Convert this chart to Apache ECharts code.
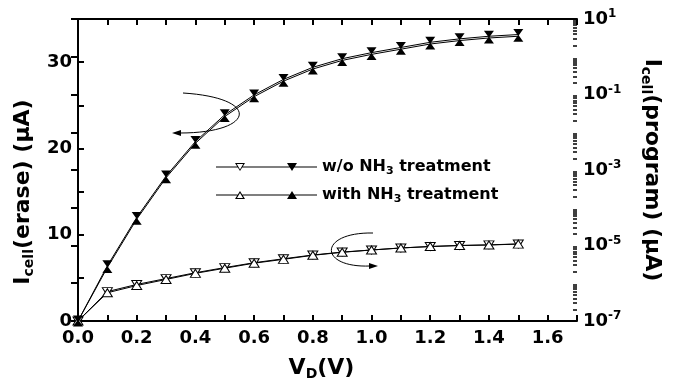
<!DOCTYPE html>
<html><head><meta charset="utf-8">
<script src="https://cdn.jsdelivr.net/npm/echarts@6/dist/echarts.min.js"></script>
<style>html,body{margin:0;padding:0;background:#fff}#c{width:675px;height:386px}</style>
</head><body><div id="c"></div>
<script>
const vd = [0.0, 0.1, 0.2, 0.3, 0.4, 0.5, 0.6, 0.7, 0.8, 0.9, 1.0, 1.1, 1.2, 1.3, 1.4, 1.5];
// erase current (left axis, μA)
const eraseWo   = [0, 6.4, 12.0, 16.8, 20.8, 23.9, 26.2, 28.0, 29.4, 30.4, 31.1, 31.7, 32.3, 32.7, 33.0, 33.2];
const eraseWith = [0, 6.2, 11.8, 16.6, 20.6, 23.7, 26.0, 27.8, 29.2, 30.2, 30.9, 31.5, 32.1, 32.5, 32.8, 33.0];
// program current (right log axis, μA)
const programWo   = [1e-7, 6.0e-7, 9.3e-7, 1.33e-6, 1.9e-6, 2.6e-6, 3.5e-6, 4.45e-6, 5.6e-6, 6.7e-6, 7.6e-6, 8.6e-6, 9.4e-6, 1.0e-5, 1.04e-5, 1.1e-5];
const programWith = [1e-7, 5.6e-7, 8.7e-7, 1.26e-6, 1.83e-6, 2.5e-6, 3.4e-6, 4.3e-6, 5.5e-6, 6.6e-6, 7.6e-6, 8.6e-6, 9.4e-6, 1.0e-5, 1.03e-5, 1.09e-5];
const xTickLabels = ['0.0','0.2','0.4','0.6','0.8','1.0','1.2','1.4','1.6'];
const leftTickLabels = ['0','10','20','30'];
const rightTickExps = [-7, -5, -3, -1, 1];
const logMinorMultipliers = [2, 3, 4, 5, 6, 7, 8, 9];
const logDecades = [-7, -6, -5, -4, -3, -2, -1, 0];

const FONT = '"DejaVu Sans", "Liberation Sans", Arial, sans-serif';
const chart = echarts.init(document.getElementById('c'), null, {renderer: 'canvas'});
const pair = (ys) => vd.map((x, i) => [x, ys[i]]);
const logMinorTicks = [];
logDecades.forEach(e => logMinorMultipliers.forEach(k => logMinorTicks.push(k * Math.pow(10, e))));
const tickFont = {fontFamily: FONT, fontWeight: 'bold', fontSize: 18, color: '#000'};
const titleRich = {
  b: {fontFamily: FONT, fontWeight: 'bold', fontSize: 22, color: '#000', lineHeight: 26},
  s: {fontFamily: FONT, fontWeight: 'bold', fontSize: 14, color: '#000', verticalAlign: 'bottom', lineHeight: 14}
};
// legend glyphs: line — open triangle — line — filled triangle — line
const lines = 'M0,3.5L21.5,3.5L21.5,4.5L0,4.5Z M26.5,3.5L73.5,3.5L73.5,4.5L26.5,4.5Z M78.5,3.5L101,3.5L101,4.5L78.5,4.5Z';
const iconDown = 'path://' + lines + ' M19,0L29,0L24,8Z M20.8,1L24,6.4L27.2,1Z M71,0L81,0L76,8Z';
const iconUp = 'path://' + lines + ' M24,0L29,8L19,8Z M24,2L21,7L27,7Z M76,0L81,8L71,8Z';

const option = {
  animation: false,
  backgroundColor: '#fff',
  grid: {left: 78, right: 98, top: 19, bottom: 65},
  xAxis: [
    {type: 'value', position: 'bottom', min: 0, max: 1.7, interval: 0.1,
     name: '{b|V}{s|D}{b|(V)}', nameLocation: 'middle', nameGap: 34,
     nameTextStyle: {rich: titleRich, padding: [0, 12, 0, 0]},
     axisLine: {lineStyle: {color: '#000', width: 2}},
     axisTick: {inside: true, length: 6, lineStyle: {color: '#000', width: 2}},
     splitLine: {show: false},
     axisLabel: Object.assign({margin: 8, formatter: v => {
        const s = v.toFixed(1); return xTickLabels.indexOf(s) >= 0 ? s : '';
     }}, tickFont)},
    {type: 'value', position: 'top', min: 0, max: 1.7, interval: 0.1,
     axisLine: {lineStyle: {color: '#000', width: 2}},
     axisTick: {inside: true, length: 6, lineStyle: {color: '#000', width: 2}},
     splitLine: {show: false}, axisLabel: {show: false}}
  ],
  yAxis: [
    {type: 'value', position: 'left', min: 0, max: 35, interval: 5,
     name: '{b|I}{s|cell}{b|(erase) (μA)}', nameLocation: 'middle', nameGap: 40,
     nameTextStyle: {rich: titleRich, padding: [0, 44, 0, 0]},
     axisLine: {lineStyle: {color: '#000', width: 2}},
     axisTick: {inside: true, length: 6, lineStyle: {color: '#000', width: 2}},
     minorTick: {show: false},
     splitLine: {show: false},
     axisLabel: Object.assign({margin: 6, formatter: v => {
        const s = String(v); return leftTickLabels.indexOf(s) >= 0 ? s : '';
     }}, tickFont)},
    {type: 'log', logBase: 10, position: 'right', min: 1e-7, max: 10, interval: 1,
     name: '{b|I}{s|cell}{b|(program) (μA)}', nameLocation: 'middle', nameGap: 62, nameRotate: -90,
     nameTextStyle: {rich: titleRich},
     axisLine: {lineStyle: {color: '#000', width: 2}},
     axisTick: {inside: true, length: 7, lineStyle: {color: '#000', width: 2}},
     minorTick: {show: false},
     splitLine: {show: false},
     axisLabel: {margin: 6, formatter: v => {
        const e = Math.round(Math.log10(v));
        return rightTickExps.indexOf(e) >= 0 ? '{b|10}{p|' + e + '}' : '';
     }, rich: {b: {fontFamily: FONT, fontWeight: 'bold', fontSize: 18, color: '#000', lineHeight: 22},
               p: {fontFamily: FONT, fontWeight: 'bold', fontSize: 12, color: '#000', verticalAlign: 'top', lineHeight: 12}}}},
    {type: 'log', logBase: 10, position: 'right', min: 1e-7, max: 10,
     axisLine: {show: false},
     axisTick: {inside: true, length: 4, customValues: logMinorTicks, lineStyle: {color: '#000', width: 1.5}},
     minorTick: {show: false}, splitLine: {show: false}, axisLabel: {show: false}}
  ],
  legend: {
    data: [{name: 'w/o NH3 treatment', icon: iconDown}, {name: 'with NH3 treatment', icon: iconUp}],
    orient: 'vertical', left: 216, top: 157, padding: 0, itemWidth: 101, itemHeight: 8, itemGap: 8,
    itemStyle: {color: '#000', borderWidth: 0},
    formatter: n => n.replace('NH3', 'NH{s|3}'),
    textStyle: {fontFamily: FONT, fontWeight: 'bold', fontSize: 16, color: '#000', lineHeight: 20,
      rich: {s: {fontFamily: FONT, fontWeight: 'bold', fontSize: 11, color: '#000', verticalAlign: 'bottom', lineHeight: 12}}}
  },
  series: [
    {name: 'w/o NH3 treatment (program)', type: 'line', xAxisIndex: 0, yAxisIndex: 1, data: pair(programWo),
     symbol: 'triangle', symbolRotate: 180, symbolSize: [10, 8],
     itemStyle: {color: '#fff', borderColor: '#000', borderWidth: 1}, lineStyle: {color: '#000', width: 1}},
    {name: 'with NH3 treatment (program)', type: 'line', xAxisIndex: 0, yAxisIndex: 1, data: pair(programWith),
     symbol: 'triangle', symbolSize: [10, 8],
     itemStyle: {color: '#fff', borderColor: '#000', borderWidth: 1}, lineStyle: {color: '#000', width: 1}},
    {name: 'w/o NH3 treatment', type: 'line', xAxisIndex: 0, yAxisIndex: 0, data: pair(eraseWo),
     symbol: 'triangle', symbolRotate: 180, symbolSize: [10, 7], symbolOffset: [0, -2],
     itemStyle: {color: '#000'}, lineStyle: {color: '#000', width: 1}},
    {name: 'with NH3 treatment', type: 'line', xAxisIndex: 0, yAxisIndex: 0, data: pair(eraseWith),
     symbol: 'triangle', symbolSize: [10, 7], symbolOffset: [0, 2],
     itemStyle: {color: '#000'}, lineStyle: {color: '#000', width: 1}}
  ],
  graphic: [
    {type: 'bezierCurve', shape: {x1: 183, y1: 93, cpx1: 262, cpy1: 98, cpx2: 255, cpy2: 133, x2: 180, y2: 133},
     style: {stroke: '#000', lineWidth: 1, fill: null}, z: 100},
    {type: 'polygon', shape: {points: [[172, 133], [181, 130], [181, 136]]}, style: {fill: '#000'}, z: 100},
    {type: 'bezierCurve', shape: {x1: 373, y1: 233, cpx1: 318, cpy1: 232, cpx2: 318, cpy2: 268, x2: 370, y2: 266},
     style: {stroke: '#000', lineWidth: 1, fill: null}, z: 100},
    {type: 'polygon', shape: {points: [[378, 266], [369, 263], [369, 269]]}, style: {fill: '#000'}, z: 100}
  ]
};
chart.setOption(option);
</script></body></html>
